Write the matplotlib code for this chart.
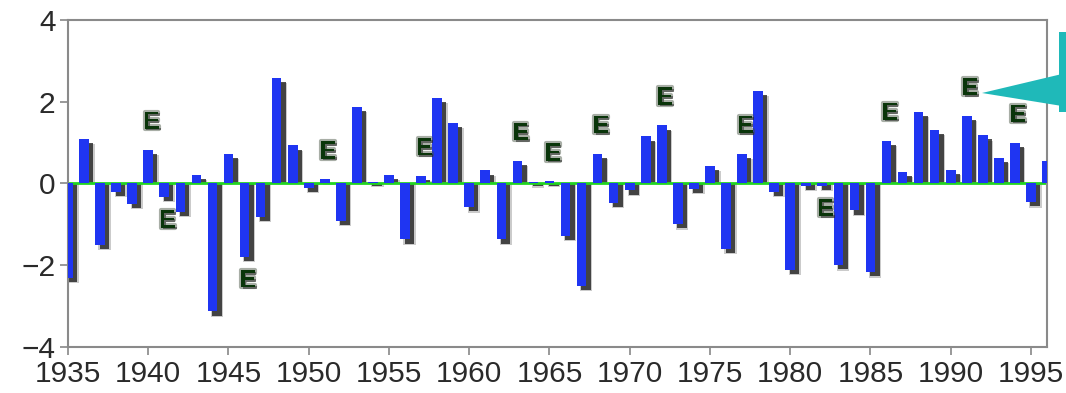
import matplotlib
matplotlib.use('Agg')
from matplotlib import pyplot as plt
from matplotlib.patches import Polygon, Rectangle
import matplotlib.patheffects as pe

# yearly index values
years = list(range(1935, 1997))
values = [-2.3, 1.1, -1.5, -0.2, -0.5, 0.83, -0.33, -0.7, 0.22, -3.13,
          0.73, -1.79, -0.82, 2.59, 0.93, -0.1, 0.1, -0.92, 1.87, 0.04,
          0.22, -1.37, 0.18, 2.1, 1.48, -0.58, 0.32, -1.37, 0.55, 0.03,
          0.05, -1.28, -2.5, 0.73, -0.48, -0.17, 1.15, 1.42, -1.0, -0.13,
          0.44, -1.6, 0.73, 2.26, -0.21, -2.12, -0.05, -0.05, -2.0, -0.66,
          -2.17, 1.05, 0.28, 1.76, 1.31, 0.33, 1.65, 1.18, 0.62, 1.0,
          -0.46, 0.55]
# El Nino years marked with "E"
e_years = [1940, 1941, 1946, 1951, 1957, 1963, 1965, 1968, 1972, 1977,
           1982, 1986, 1991, 1994]
y_ticks = [-4, -2, 0, 2, 4]
x_ticks = list(range(1935, 1996, 5))

plt.rcParams['font.family'] = ['Liberation Sans', 'DejaVu Sans']

fig = plt.figure(figsize=(10.66, 3.93), dpi=100)
ax = fig.add_axes([68/1066, 1 - 347/393, (1047 - 68)/1066, (347 - 20)/393])

w = 0.6
# soft drop shadows, offset right and away from the baseline
for x, v in zip(years, values):
    h = v - 0.1
    ax.add_patch(Rectangle((x - w/2 + 0.2, 0), w + 0.16, h - 0.03, facecolor='#303030',
                           alpha=0.25, edgecolor='none', zorder=1))
    ax.add_patch(Rectangle((x - w/2 + 0.27, 0), w, h, facecolor='#151515',
                           alpha=0.75, edgecolor='none', zorder=1))
ax.axhline(0, color='#22d422', lw=2, zorder=2)
ax.bar(years, values, width=w, color='#1f35f2', zorder=3)

for yr in e_years:
    v = values[years.index(yr)]
    ey = v + 0.68 if v > 0 else v - 0.58
    ax.text(yr + 0.2, ey, 'E', ha='center', va='center', fontsize=18, fontweight='bold',
            color='#0a350a', zorder=4,
            path_effects=[pe.withStroke(linewidth=3, foreground='#3e4c3a', alpha=0.45),
                          pe.withSimplePatchShadow(offset=(1.2, -1.2), shadow_rgbFace='#202020',
                                                   alpha=0.5)])

ax.set_xlim(1935, 1996)
ax.set_ylim(-4, 4)
ax.set_xticks(x_ticks)
ax.set_yticks(y_ticks)
ax.set_yticklabels(['\u22124', '\u22122', '0', '2', '4'])
ax.tick_params(labelsize=21.5, colors='#888888', labelcolor='#2a2a2a', length=6, width=1.2, pad=3)
for s in ax.spines.values():
    s.set_color('#8a8a8a')
    s.set_linewidth(1.5)

# teal pointer on the right
px = lambda x, y: (x/1066, 1 - y/393)
fig.patches.append(Polygon([px(982, 93), px(1062, 74), px(1062, 106)], closed=True,
                           transform=fig.transFigure, facecolor='#1fb9b9', edgecolor='none'))
fig.patches.append(Polygon([px(1059, 32), px(1066, 32), px(1066, 112), px(1059, 112)],
                           closed=True, transform=fig.transFigure, facecolor='#1fb9b9',
                           edgecolor='none'))

fig.savefig('out.png', dpi=100)
